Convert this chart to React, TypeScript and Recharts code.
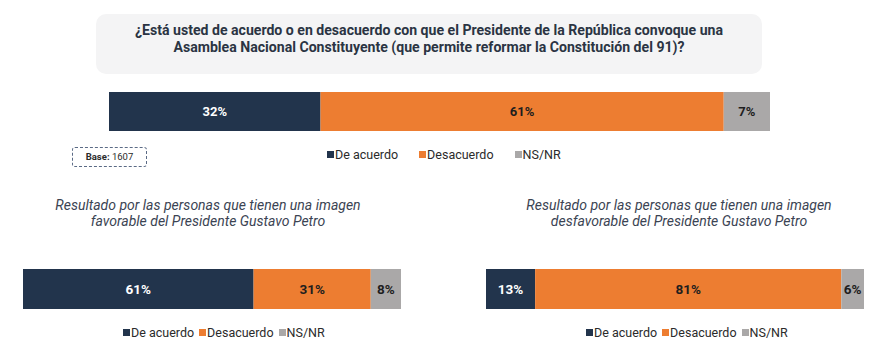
import { BarChart, Bar, XAxis, YAxis, LabelList } from "recharts";

const seriesKeys = ["acuerdo", "desacuerdo", "nsnr"];
const seriesNames = ["De acuerdo", "Desacuerdo", "NS/NR"];
const seriesColors = ["#22344c", "#ed7d31", "#aaa8a8"];
const labelColors = ["#ffffff", "#1e1e1e", "#1e1e1e"];

const totalValues = [32, 61, 7];
const favorableValues = [61, 31, 8];
const desfavorableValues = [13, 81, 6];

const FONT = "Roboto, 'Noto Sans', sans-serif";

function toRow(name: string, values: number[]) {
  const row: Record<string, string | number> = { name };
  seriesKeys.forEach((k, i) => (row[k] = values[i]));
  return [row];
}

function StackBar({ values, width, height, fontSize }: { values: number[]; width: number; height: number; fontSize: number }) {
  const data = toRow("total", values);
  return (
    <BarChart
      width={width}
      height={height}
      data={data}
      layout="vertical"
      margin={{ top: 0, right: 0, bottom: 0, left: 0 }}
      barCategoryGap={0}
    >
      <XAxis type="number" domain={[0, 100]} hide />
      <YAxis type="category" dataKey="name" hide />
      {seriesKeys.map((k, i) => (
        <Bar key={k} dataKey={k} stackId="a" fill={seriesColors[i]} isAnimationActive={false}>
          <LabelList
            dataKey={k}
            position="center"
            formatter={(v: any) => `${v}%`}
            fill={labelColors[i]}
            style={{ fontFamily: FONT, fontWeight: 700, fontSize }}
          />
        </Bar>
      ))}
    </BarChart>
  );
}

function LegendRow({ left, top, fontSize, gap }: { left: number; top: number; fontSize: number; gap: number }) {
  return (
    <div style={{ position: "absolute", left, top, height: 16, display: "flex", alignItems: "center", fontFamily: FONT, fontSize, color: "#2b2b2b", whiteSpace: "nowrap" }}>
      {seriesNames.map((n, i) => (
        <div key={n} style={{ display: "flex", alignItems: "center", marginRight: gap }}>
          <span style={{ width: 7, height: 7, background: seriesColors[i], display: "inline-block", marginRight: 1 }} />
          <span>{n}</span>
        </div>
      ))}
    </div>
  );
}

const subStyle: React.CSSProperties = {
  position: "absolute",
  fontFamily: FONT,
  fontStyle: "italic",
  fontSize: 14,
  lineHeight: "16px",
  color: "#3b4453",
  textAlign: "center",
  width: 360,
};

export default function App() {
  return (
    <div style={{ position: "absolute", left: 0, top: 0, width: 881, height: 352, background: "#ffffff", overflow: "hidden" }}>
      <div
        style={{
          position: "absolute",
          left: 96,
          top: 14,
          width: 666,
          height: 60,
          background: "#f4f4f5",
          borderRadius: 10,
          fontFamily: FONT,
          fontWeight: 700,
          fontSize: 14.1,
          lineHeight: "17px",
          color: "#2b3443",
          textAlign: "center",
          boxSizing: "border-box",
          paddingTop: 8,
        }}
      >
        ¿Está usted de acuerdo o en desacuerdo con que el Presidente de la República convoque una
        <br />
        Asamblea Nacional Constituyente (que permite reformar la Constitución del 91)?
      </div>

      <div style={{ position: "absolute", left: 109, top: 92 }}>
        <StackBar values={totalValues} width={661} height={39} fontSize={13} />
      </div>
      <LegendRow left={327} top={146} fontSize={12.5} gap={21} />

      <div
        style={{
          position: "absolute",
          left: 72,
          top: 147,
          width: 75,
          height: 20,
          border: "1px dashed #5a6a85",
          borderRadius: 3,
          boxSizing: "border-box",
          fontFamily: FONT,
          fontSize: 9.5,
          lineHeight: "18px",
          textAlign: "center",
          color: "#2b2b2b",
        }}
      >
        <b>Base:</b> 1607
      </div>

      <div style={{ ...subStyle, left: 28, top: 197 }}>
        Resultado por las personas que tienen una imagen
        <br />
        favorable del Presidente Gustavo Petro
      </div>
      <div style={{ ...subStyle, left: 499, top: 197 }}>
        Resultado por las personas que tienen una imagen
        <br />
        desfavorable del Presidente Gustavo Petro
      </div>

      <div style={{ position: "absolute", left: 23, top: 269 }}>
        <StackBar values={favorableValues} width={378} height={40} fontSize={13.5} />
      </div>
      <LegendRow left={123} top={324} fontSize={12.5} gap={5} />

      <div style={{ position: "absolute", left: 486, top: 269 }}>
        <StackBar values={desfavorableValues} width={378} height={40} fontSize={13.5} />
      </div>
      <LegendRow left={586} top={324} fontSize={12.5} gap={5} />
    </div>
  );
}
